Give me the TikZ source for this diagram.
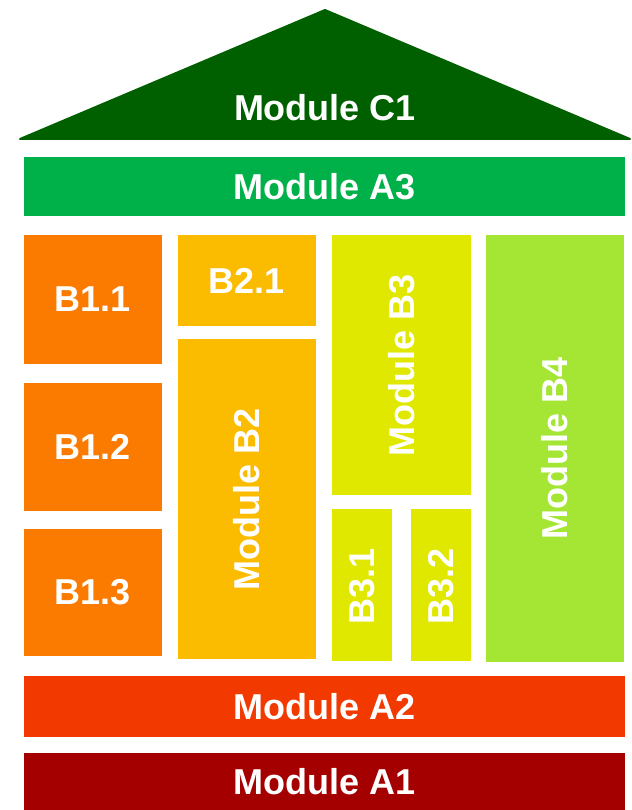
\documentclass[tikz,border=0pt]{standalone}
\usepackage{fontspec}
\setmainfont{Liberation Sans}
\definecolor{cC}{RGB}{0,96,0}
\definecolor{cAthree}{RGB}{0,176,72}
\definecolor{cBone}{RGB}{251,123,0}
\definecolor{cBtwo}{RGB}{251,188,0}
\definecolor{cBthree}{RGB}{224,232,0}
\definecolor{cBfour}{RGB}{165,230,52}
\definecolor{cAtwo}{RGB}{242,58,0}
\definecolor{cAone}{RGB}{165,0,0}
\tikzset{
  lab/.style={text=white,font=\fontsize{36}{40}\selectfont\bfseries,inner sep=0pt},
  blk/.style={fill=#1,draw=none}
}
\begin{document}
\begin{tikzpicture}[x=1pt,y=-1pt]
\useasboundingbox (0,0) rectangle (631,810);
% roof
\filldraw[fill=cC,draw=cC,line width=2pt,line join=round] (20,139) -- (325,10) -- (630,139) -- cycle;
\node[lab] (c1) at (325,108) {Module C1};
% A3
\fill[blk=cAthree] (24,157) rectangle (625,216);
\node[lab] (a3) at (324.5,186.5) {Module A3};
% column B1
\fill[blk=cBone] (24,235) rectangle (162,364);
\node[lab] (b11) at (93,299.5) {B1.1};
\fill[blk=cBone] (24,383) rectangle (162,511);
\node[lab] (b12) at (93,447) {B1.2};
\fill[blk=cBone] (24,529) rectangle (162,656);
\node[lab] (b13) at (93,592.5) {B1.3};
% column B2
\fill[blk=cBtwo] (178,235) rectangle (316,326);
\node[lab] (b21) at (247,280.5) {B2.1};
\fill[blk=cBtwo] (178,339) rectangle (316,659);
\node[lab,rotate=90] (b2) at (247,499) {Module B2};
% column B3
\fill[blk=cBthree] (332,235) rectangle (471,495);
\node[lab,rotate=90] (b3) at (401.5,365) {Module B3};
\fill[blk=cBthree] (332,509) rectangle (392,661);
\node[lab,rotate=90] (b31) at (362,586) {B3.1};
\fill[blk=cBthree] (411,509) rectangle (471,661);
\node[lab,rotate=90] (b32) at (441,586) {B3.2};
% B4
\fill[blk=cBfour] (486,235) rectangle (624,662);
\node[lab,rotate=90] (b4) at (555,448.5) {Module B4};
% A2, A1
\fill[blk=cAtwo] (24,676) rectangle (625,737);
\node[lab] (a2) at (324.5,706.5) {Module A2};
\fill[blk=cAone] (24,753) rectangle (625,812);
\node[lab] (a1) at (324.5,782) {Module A1};
\end{tikzpicture}
\end{document}
